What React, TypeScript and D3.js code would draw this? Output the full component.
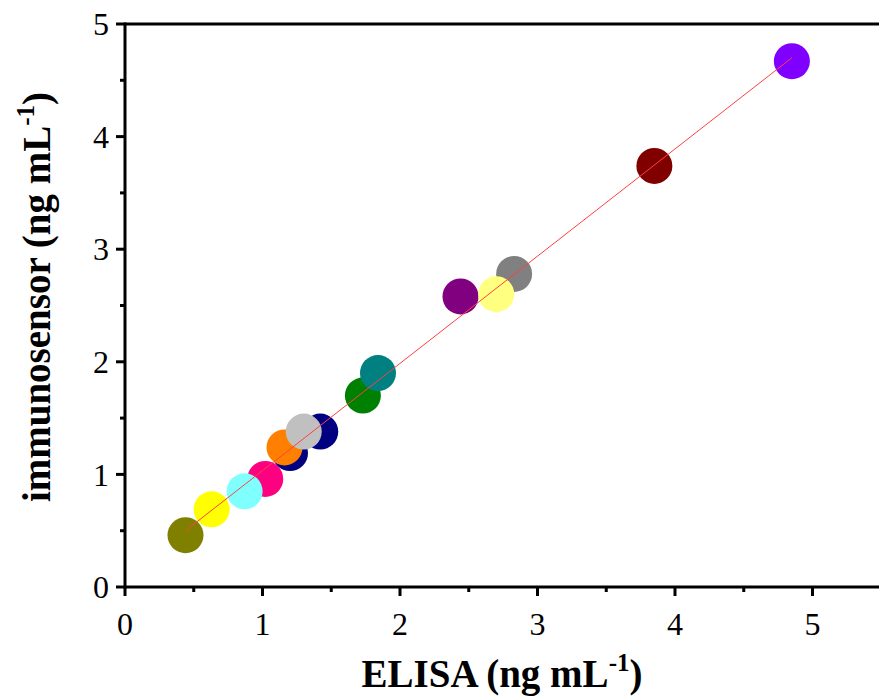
import React, { useEffect, useRef } from 'react';
import * as d3 from 'd3';

// ELISA vs immunosensor (ng/mL), one colour per sample, in drawing order
const elisa = [0.63, 0.44, 1.02, 0.87, 1.20, 1.16, 1.42, 1.30, 1.73, 1.84, 2.44, 2.83, 2.70, 3.85, 4.85];
const sensor = [0.69, 0.46, 0.96, 0.85, 1.19, 1.24, 1.38, 1.38, 1.70, 1.90, 2.58, 2.78, 2.60, 3.74, 4.67];
const colors = ['#FFFF00', '#808000', '#FF0080', '#80FFFF', '#000080', '#FF8000', '#000080', '#C0C0C0',
  '#008000', '#008080', '#800080', '#808080', '#FFFF80', '#800000', '#8000FF'];

// fitted line endpoints
const fitX = [0.44, 4.85];
const fitY = [0.50, 4.70];

const xTicks = [0, 1, 2, 3, 4, 5];
const yTicks = [0, 1, 2, 3, 4, 5];

function App() {
  const svgRef = useRef<SVGSVGElement>(null);

  useEffect(() => {
    const svg = d3.select(svgRef.current);
    svg.selectAll('*').remove();

    const left = 125, top = 24, bottom = 587;
    const x = d3.scaleLinear().domain([0, 5.6]).range([left, left + 5.6 * 137.5]);
    const y = d3.scaleLinear().domain([0, 5]).range([bottom, top]);
    const font = '"Liberation Serif", "Times New Roman", serif';

    // points
    svg.append('g')
      .selectAll('circle')
      .data(elisa)
      .enter().append('circle')
      .attr('cx', d => x(d))
      .attr('cy', (d, i) => y(sensor[i]))
      .attr('r', 18)
      .attr('fill', (d, i) => colors[i]);

    // fit line
    svg.append('line')
      .attr('x1', x(fitX[0])).attr('y1', y(fitY[0]))
      .attr('x2', x(fitX[1])).attr('y2', y(fitY[1]))
      .attr('stroke', '#ff4040')
      .attr('stroke-width', 1);

    // frame lines
    const frame = svg.append('g').attr('stroke', '#000').attr('stroke-width', 3);
    frame.append('line').attr('x1', left).attr('x2', 879).attr('y1', bottom).attr('y2', bottom);
    frame.append('line').attr('x1', left).attr('x2', 879).attr('y1', top).attr('y2', top);
    frame.append('line').attr('x1', left).attr('x2', left).attr('y1', top - 1.5).attr('y2', bottom + 1.5);

    // x ticks
    const xMinor = d3.range(0.5, 5.6, 1);
    frame.selectAll('.xt').data(xTicks).enter().append('line')
      .attr('x1', d => x(d)).attr('x2', d => x(d))
      .attr('y1', bottom).attr('y2', bottom + 9);
    frame.selectAll('.xm').data(xMinor).enter().append('line')
      .attr('x1', d => x(d)).attr('x2', d => x(d))
      .attr('y1', bottom).attr('y2', bottom + 5);

    // y ticks
    const yMinor = d3.range(0.5, 5, 1);
    frame.selectAll('.yt').data(yTicks).enter().append('line')
      .attr('x1', left).attr('x2', left - 9)
      .attr('y1', d => y(d)).attr('y2', d => y(d));
    frame.selectAll('.ym').data(yMinor).enter().append('line')
      .attr('x1', left).attr('x2', left - 5)
      .attr('y1', d => y(d)).attr('y2', d => y(d));

    svg.append('g').selectAll('text').data(xTicks).enter().append('text')
      .attr('x', d => x(d)).attr('y', bottom + 48)
      .attr('text-anchor', 'middle')
      .attr('font-family', font).attr('font-size', 32)
      .text(d => d);

    svg.append('g').selectAll('text').data(yTicks).enter().append('text')
      .attr('x', left - 16).attr('y', d => y(d)).attr('dy', '0.35em')
      .attr('text-anchor', 'end')
      .attr('font-family', font).attr('font-size', 32)
      .text(d => d);

    // axis titles
    const xl = svg.append('text')
      .attr('x', 502).attr('y', 687)
      .attr('text-anchor', 'middle')
      .attr('font-family', font).attr('font-size', 39).attr('font-weight', 'bold');
    xl.append('tspan').text('ELISA (ng mL');
    xl.append('tspan').attr('font-size', 25).attr('dy', -16).text('-1');
    xl.append('tspan').attr('dy', 16).text(')');

    const yl = svg.append('text')
      .attr('transform', 'translate(50,297) rotate(-90)')
      .attr('text-anchor', 'middle')
      .attr('font-family', font).attr('font-size', 39).attr('font-weight', 'bold');
    yl.append('tspan').text('immunosensor (ng mL');
    yl.append('tspan').attr('font-size', 25).attr('dy', -16).text('-1');
    yl.append('tspan').attr('dy', 16).text(')');
  }, []);

  return (
    <svg ref={svgRef} width={879} height={698}
      style={{ position: 'absolute', left: 0, top: 0, background: '#fff' }} />
  );
}

export default App;
